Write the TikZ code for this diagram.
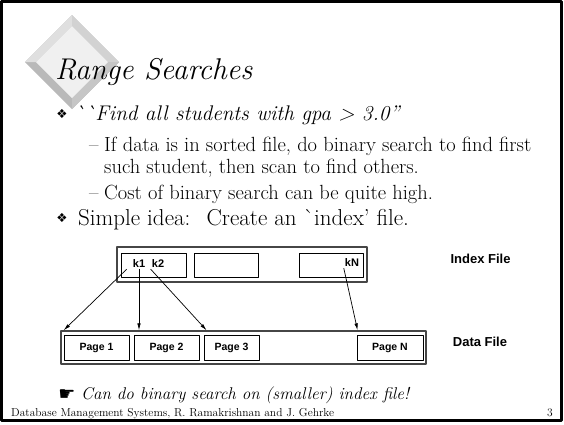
\documentclass[tikz,border=0pt]{standalone}
\usepackage{fontspec}
\newfontfamily\helv{Liberation Sans}
\newfontfamily\dingfont{DejaVu Sans}
\usetikzlibrary{arrows.meta,calc,positioning}
\tikzset{
  lvltitle/.style={anchor=base west,inner sep=0,font=\fontsize{30}{32}\selectfont\itshape},
  lvlone/.style={anchor=base west,inner sep=0,font=\fontsize{23}{26}\selectfont},
  lvltwo/.style={anchor=base west,inner sep=0,font=\fontsize{20.5}{23}\selectfont},
  ding/.style={inner sep=0,font=\dingfont\fontsize{12.5}{12.5}\selectfont},
  filebox/.style={draw=gray!55!black,line width=1.3pt,inner sep=0},
  slotbox/.style={draw,line width=0.8pt,inner sep=0,minimum height=24pt,font=\helv\bfseries\fontsize{10.5}{12}\selectfont},
  keylbl/.style={inner sep=1pt,font=\helv\bfseries\fontsize{11}{12}\selectfont},
  filelbl/.style={inner sep=0,font=\helv\bfseries\fontsize{13}{15}\selectfont},
  ptr/.style={-{Latex[length=7pt,width=3.5pt]},line width=0.7pt}
}
\begin{document}
\begin{tikzpicture}[x=1pt,y=-1pt,line join=round]
\useasboundingbox (0,0) rectangle (564,424);
% slide frame
\draw[line width=3pt] (1.5,1.5) rectangle (561.5,420.5);
% bevelled diamond
\fill[gray!55] (25,62) -- (72,109) -- (119,62) -- (72,15) -- cycle;
\fill[gray!25] (25,62) -- (72,15) -- (72,26) -- (36,62) -- cycle;
\fill[gray!35] (72,15) -- (119,62) -- (108,62) -- (72,26) -- cycle;
\fill[gray!45] (119,62) -- (72,109) -- (72,98) -- (108,62) -- cycle;
\fill[gray!12] (36,62) -- (72,26) -- (108,62) -- (72,98) -- cycle;
% title and bullets
\node[lvltitle] (title) at (55,79) {Range Searches};
\node[ding] (b1) at (62,114) {❖};
\node[lvlone,font=\fontsize{21.2}{24}\selectfont\itshape] (t1) at (74,120) {\textasciigrave\textasciigrave Find all students with gpa > 3.0''};
\node[lvltwo] (d1) at (89,151) {--};
\node[lvltwo] (t2) at (104,151) {If data is in sorted file, do binary search to find first};
\node[lvltwo] (t3) at (104,173) {such student, then scan to find others.};
\node[lvltwo] (d2) at (89,199) {--};
\node[lvltwo] (t4) at (104,199) {Cost of binary search can be quite high.};
\node[ding] (b2) at (62,218) {❖};
\node[lvlone] (t5) at (78,225) {Simple idea:~ Create an \textasciigrave index' file.};
% index file
\node[filebox,minimum width=250pt,minimum height=35pt] (idx) at (242,264.5) {};
\node[slotbox,minimum width=65pt] (s1) at (153.5,265) {};
\node[slotbox,minimum width=64pt] (s2) at (226,265) {};
\node[slotbox,minimum width=64pt] (s3) at (331,265) {};
\node[keylbl] (k1) at (139,264) {k1};
\node[keylbl] (k2) at (158,264) {k2};
\node[keylbl] (kN) at (352,263) {kN};
\node[filelbl] (idxl) at (480.5,258.5) {Index File};
% data file
\node[filebox,minimum width=365pt,minimum height=33pt] (dat) at (243.5,347.5) {};
\node[slotbox,minimum width=65pt,minimum height=25pt] (p1) at (96.5,347.5) {Page 1};
\node[slotbox,minimum width=65pt,minimum height=25pt] (p2) at (166.5,347.5) {Page 2};
\node[slotbox,minimum width=55pt,minimum height=25pt] (p3) at (231.5,347.5) {Page 3};
\node[slotbox,minimum width=66pt,minimum height=25pt] (pN) at (390,347.5) {Page N};
\node[filelbl] (datl) at (480,342) {Data File};
% pointers
\draw[ptr] ([xshift=-5pt]k1.south west) -- (p1.north west |- dat.north);
\draw[ptr] (k1.south) -- (k1.south |- dat.north);
\draw[ptr] (k2.south west) -- ([xshift=3pt]p3.north west |- dat.north);
\draw[ptr] (kN.south west) -- ([xshift=1pt]pN.north west |- dat.north);
% note and footer
\node[ding,font=\dingfont\fontsize{19}{19}\selectfont] (hand) at (67,395) {☛};
\node[lvlone,font=\fontsize{17}{20}\selectfont\itshape] (t6) at (81,399) {Can do binary search on (smaller) index file!};
\node[anchor=base west,inner sep=0,font=\fontsize{11.5}{13}\selectfont] (foot) at (11,416.5) {Database Management Systems, R. Ramakrishnan and J. Gehrke};
\node[anchor=base,inner sep=0,font=\fontsize{11.5}{13}\selectfont] (pg) at (550,416.5) {3};
\end{tikzpicture}
\end{document}
